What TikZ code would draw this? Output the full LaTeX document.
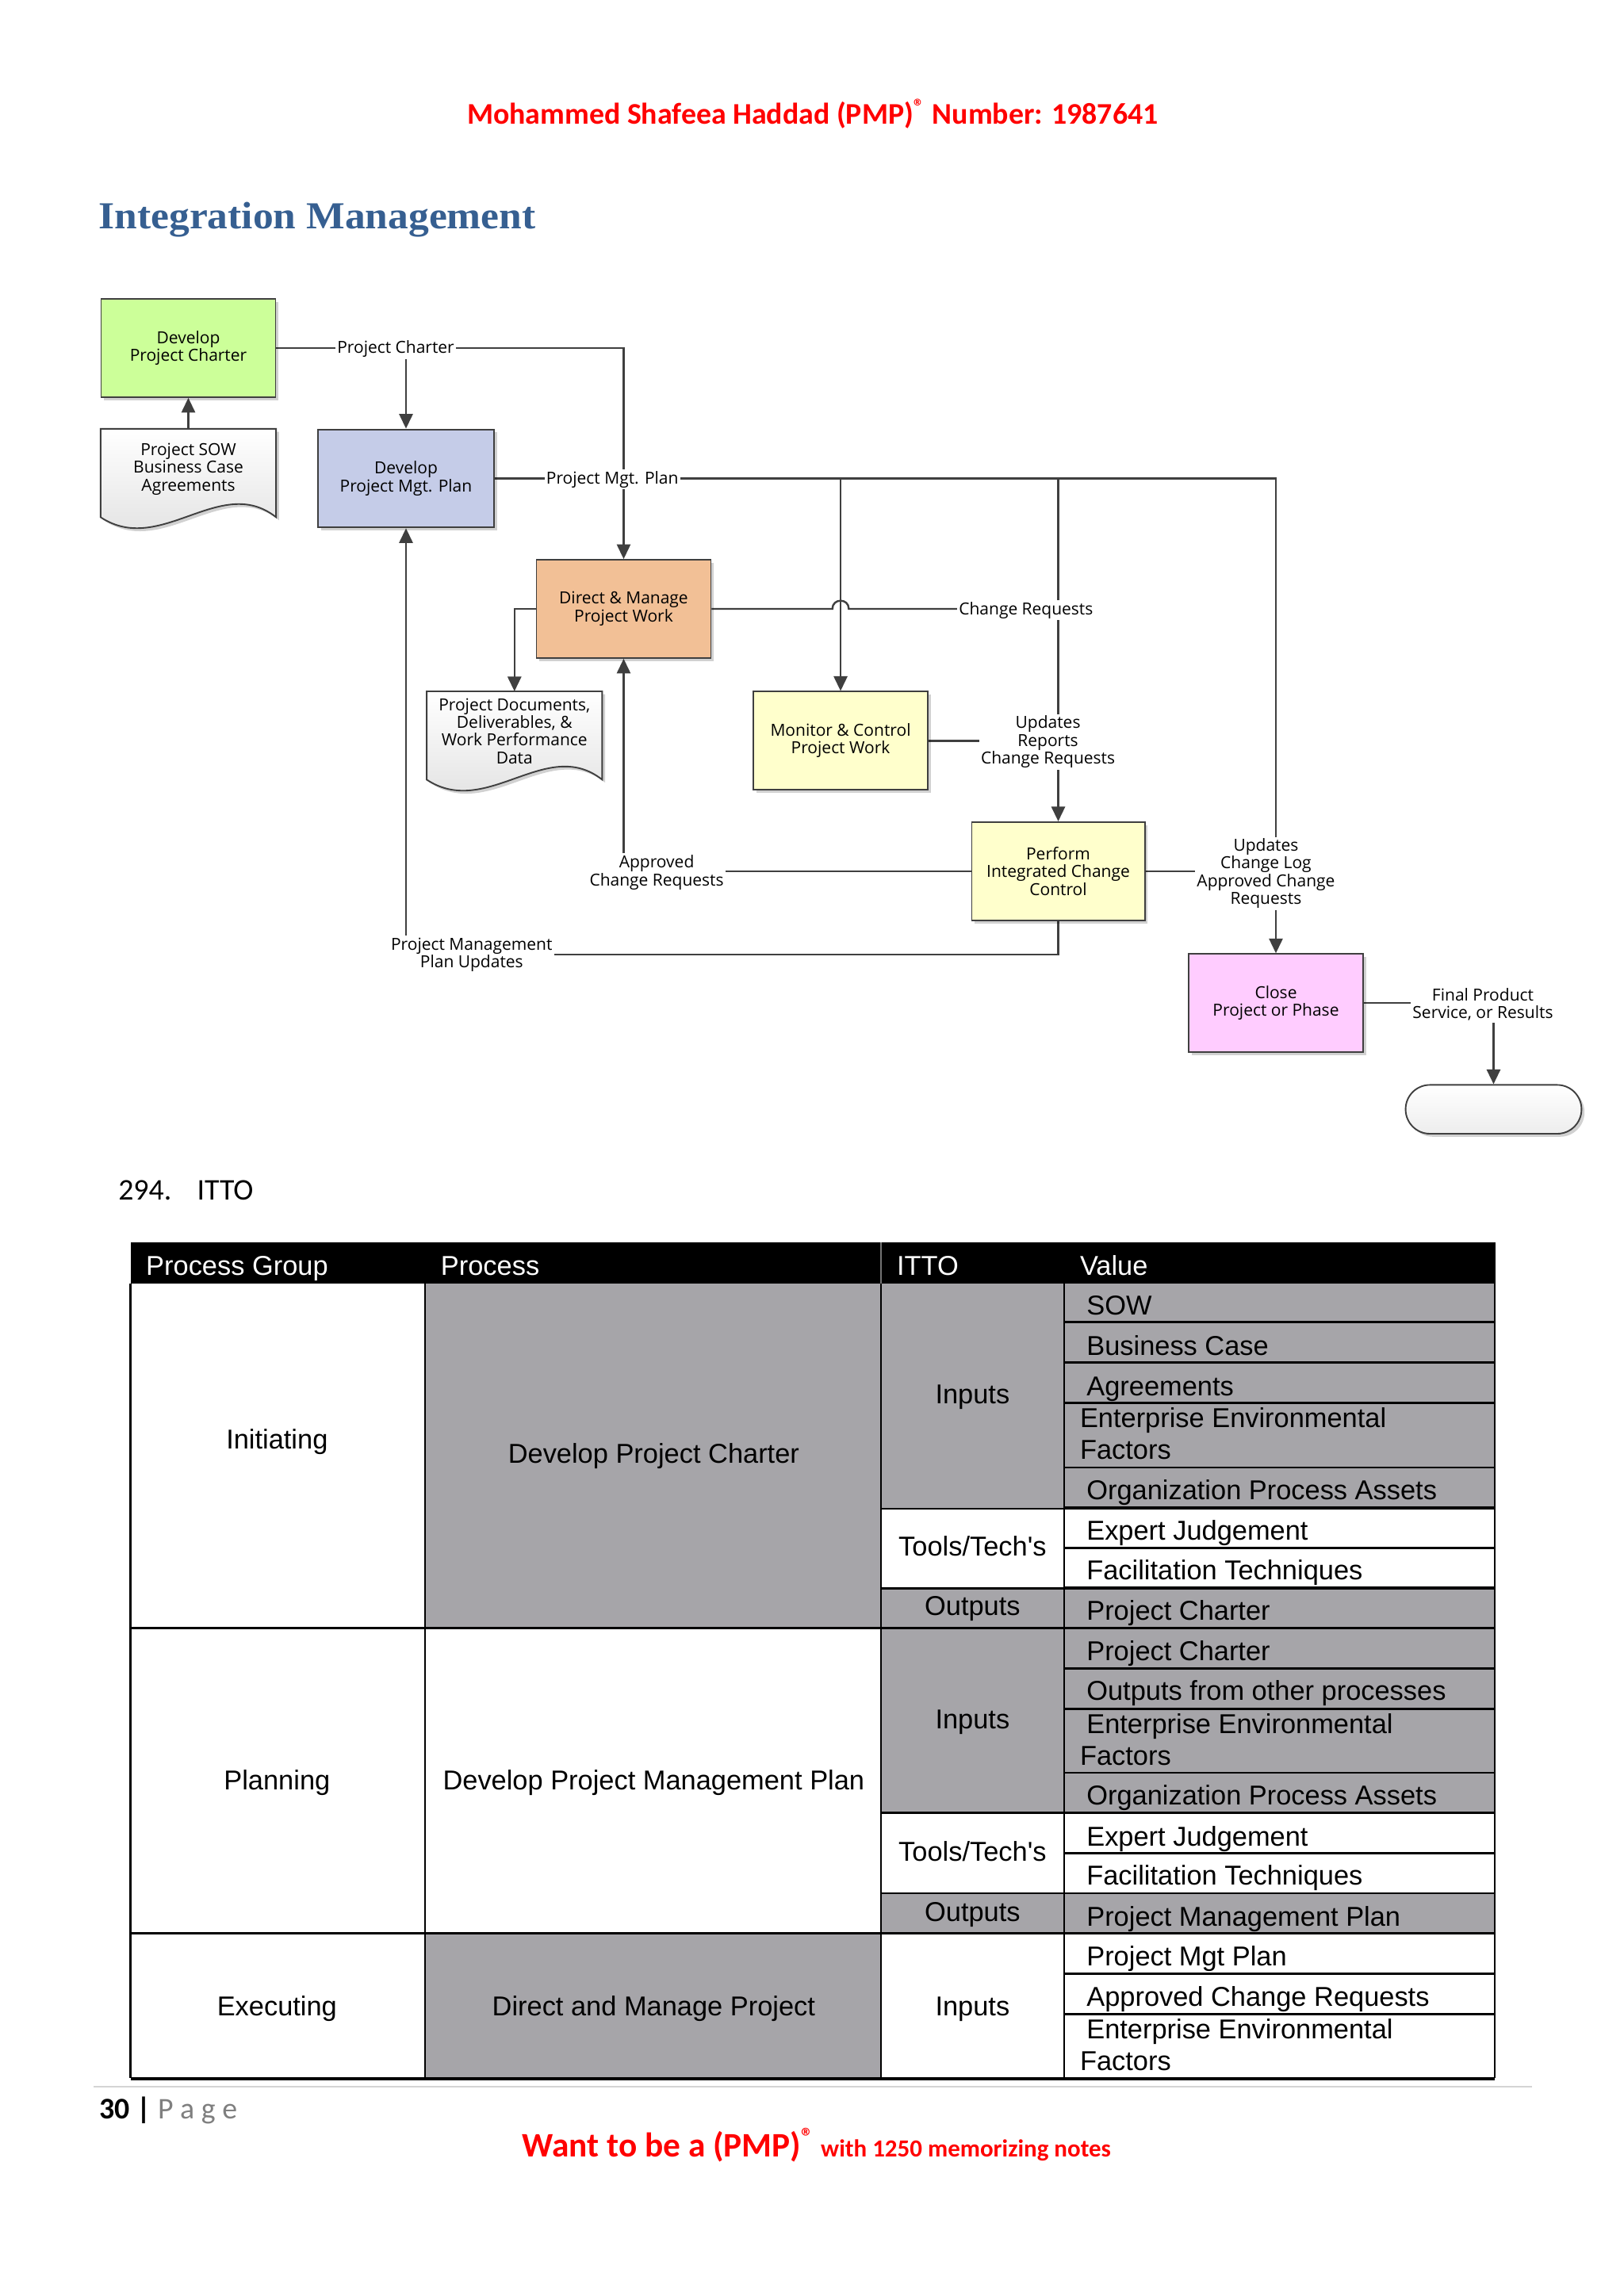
\documentclass[tikz,border=0pt]{standalone}
\usepackage{fontspec}
\setmainfont{Carlito}
\newfontfamily\diafont{Open Sans}
\newfontfamily\tblfont{Liberation Sans}
\newfontfamily\titlefont{Liberation Serif}
\usetikzlibrary{arrows.meta,shadows,calc}
\pgfdeclarelayer{bg}
\pgfsetlayers{bg,main}
\definecolor{linec}{HTML}{3F3F3F}
\definecolor{cgreen}{HTML}{CCFF99}
\definecolor{cblue}{HTML}{C5CCE8}
\definecolor{corange}{HTML}{F2C096}
\definecolor{cyellow}{HTML}{FFFFCC}
\definecolor{cpink}{HTML}{FFCCFF}
\definecolor{tgray}{RGB}{166,165,169}
\definecolor{titleblue}{HTML}{365F91}
\definecolor{pgray}{HTML}{7F7F7F}
\definecolor{hred}{HTML}{FF0000}
\tikzset{
  dfont/.style={font=\diafont\fontsize{6.1}{6.5}\selectfont},
  box/.style={draw=linec, line width=0.55pt, minimum width=63.93pt, minimum height=36pt, inner sep=1pt, align=center, dfont,
    drop shadow={shadow xshift=1.1pt, shadow yshift=-1.1pt, opacity=0.18, fill=black}},
  docshape/.style={inner sep=0pt, minimum width=63.93pt, minimum height=32pt},
  docpath/.style={draw=linec, line width=0.55pt, top color=white, bottom color=black!13,
    drop shadow={shadow xshift=1.1pt, shadow yshift=-1.1pt, opacity=0.18, fill=black}},
  doctext/.style={inner sep=0pt, align=center, dfont},
  conn/.style={draw=linec, line width=0.7pt},
  arr/.style={conn, -{Triangle[length=5.4pt,width=5pt]}},
  lbl/.style={fill=white, inner sep=0.6pt, align=center, dfont},
  tx/.style={inner sep=0pt, font=\tblfont\fontsize{10}{11.6}\selectfont},
  tline/.style={draw=black, line width=0.6pt},
  hline/.style={draw=black, line width=0.8pt},
}
\begin{document}
\begin{tikzpicture}[x=0.53725pt,y=-0.53725pt]
\useasboundingbox (0,0) rectangle (1108,1566.8);
\begin{pgfonlayer}{bg}
\fill[white] (0,0) rectangle (1108,1566.8);
\end{pgfonlayer}

% ---------- page header ----------
\node[anchor=base, inner sep=0pt, text=hred, font=\bfseries\fontsize{11}{13}\selectfont] (hdr) at (554.5,84.8)
  {Mohammed Shafeea Haddad (PMP)\textsuperscript{®} Number: 1987641};
\node[anchor=base west, inner sep=0pt, text=titleblue, font=\titlefont\bfseries\fontsize{14}{16}\selectfont] (title) at (67,156)
  {\scalebox{1.07}[1]{Integration Management}};

% ---------- process boxes ----------
\node[box, fill=cgreen] (dpc) at (128.5,237.5) {Develop\\Project Charter};
\node[box, fill=cblue, minimum width=64.47pt] (dpmp) at (277,326.5) {Develop\\Project Mgt. Plan};
\node[box, fill=corange] (dmpw) at (425.5,415.5) {Direct \& Manage\\Project Work};
\node[box, fill=cyellow] (mcpw) at (573.5,505.5) {Monitor \& Control\\Project Work};
\node[box, fill=cyellow, minimum width=63.4pt] (icc) at (722,594.5) {Perform\\Integrated Change\\Control};
\node[box, fill=cpink] (close) at (870.5,684.5) {Close\\Project or Phase};
\node[box, minimum width=64.47pt, minimum height=17.9pt, rounded corners=8.9pt, top color=white, bottom color=black!7] (term) at (1019,757) {};

% ---------- documents ----------
\node[docshape] (sow) at (128.5,322.8) {};
\path[docpath] (sow.north west) -- (sow.north east) -- (sow.south east)
  .. controls ($(sow.south east)+(-38,-30)$) and ($(sow.south west)+(41,27)$) .. (sow.south west) -- cycle;
\node[doctext] (sowt) at (128.5,320) {Project SOW\\Business Case\\Agreements};

\node[docshape] (pdoc) at (351,501.9) {};
\path[docpath] (pdoc.north west) -- (pdoc.north east) -- (pdoc.south east)
  .. controls ($(pdoc.south east)+(-38,-30)$) and ($(pdoc.south west)+(41,27)$) .. (pdoc.south west) -- cycle;
\node[doctext] (pdoct) at (351,498.8) {Project Documents,\\Deliverables, \&\\Work Performance\\Data};

% ---------- connector labels ----------
\node[lbl] (lblPC) at (270,237.9) {Project Charter};
\node[lbl] (lblPMP) at (417.8,327.2) {Project Mgt. Plan};
\node[lbl] (lblCR) at (700,416.5) {Change Requests};
\node[lbl] (lblURC) at (715,506.3) {Updates\\Reports\\Change Requests};
\node[lbl] (lblACR) at (448,595.5) {Approved\\Change Requests};
\node[lbl] (lblPMU) at (321.8,651.4) {Project Management\\Plan Updates};
\node[lbl] (lblUCL) at (863.7,596) {Updates\\Change Log\\Approved Change\\Requests};
\node[lbl] (lblFP) at (1011.7,685.5) {Final Product\\Service, or Results};

% ---------- connectors ----------
\begin{pgfonlayer}{bg}
\coordinate (hop) at (dmpw.east -| mcpw.north);
\draw[arr] (dpc.east) -- (dpc.east -| dmpw.north) -- (dmpw.north);
\draw[arr] (lblPC.south -| dpmp.north) -- (dpmp.north);
\draw[arr] (dpmp.east) -- (dpmp.east -| close.north) -- (close.north);
\draw[arr] (dpmp.east -| mcpw.north) -- (mcpw.north);
\draw[arr] (dpmp.east -| icc.north) -- (icc.north);
\draw[conn] (dmpw.east) -- ([xshift=-3pt]hop) .. controls ([xshift=-3pt,yshift=4pt]hop) and ([xshift=3pt,yshift=4pt]hop) .. ([xshift=3pt]hop) -- (dmpw.east -| lblCR);
\draw[arr] (dmpw.west) -| (pdoc.north);
\draw[arr] (sow.north) -- (dpc.south);
\draw[conn] (mcpw.east) -- (mcpw.east -| lblURC);
\draw[conn] (icc.west) -- (icc.west -| lblACR);
\draw[arr] (lblACR.north -| dmpw.south) -- (dmpw.south);
\draw[conn] (icc.south) |- (lblPMU);
\draw[arr] (lblPMU.north -| dpmp.south) -- (dpmp.south);
\draw[conn] (icc.east) -- (icc.east -| lblUCL);
\draw[conn] (close.east) -- (close.east -| lblFP);
\draw[arr] (lblFP.south -| term.north) -- (term.north);
\end{pgfonlayer}

% ---------- ITTO heading ----------
\node[anchor=base west, inner sep=0pt, font=\fontsize{11}{13}\selectfont] (num) at (80.4,818.9) {294.};
\node[anchor=base west, inner sep=0pt, font=\fontsize{11}{13}\selectfont] (itto) at (134.1,818.9) {ITTO};

% ---------- table fills ----------
\fill[black] (89,848) rectangle (1020,876);
\fill[tgray] (290,876) rectangle (601,1111);
\fill[tgray] (601,876) rectangle (1020,1030);
\fill[tgray] (601,1084) rectangle (1020,1111);
\fill[tgray] (601,1111) rectangle (1020,1237);
\fill[tgray] (601,1292) rectangle (1020,1319);
\fill[tgray] (290,1319) rectangle (601,1418);
% vertical lines
\draw[black!55, line width=0.5pt] (601,848) -- (601,876);
\draw[tline] (89,876) -- (89,1418);
\draw[tline] (290,876) -- (290,1418);
\draw[tline] (601,876) -- (601,1418);
\draw[tline] (726,876) -- (726,1418);
\draw[tline] (1020,848) -- (1020,1418);
% value row lines
\foreach \yy in {902.2,929.8,957.4,1001.4,1028.6,1056.2,1083.5,1138.6,1166,1209.7,1237.2,1264.6,1291.9,1346.8,1374.4}
  \draw[hline] (726,\yy) -- (1020,\yy);
\foreach \yy in {1029.5,1083.8,1237.2,1291.9}
  \draw[hline] (601,\yy) -- (1020,\yy);
\draw[hline, line width=0.9pt] (89,1111.1) -- (1020,1111.1);
\draw[hline, line width=0.9pt] (89,1319.4) -- (1020,1319.4);
\draw[hline, line width=1.3pt] (89,1418.5) -- (1020,1418.5);

% ---------- table header ----------
\node[tx, anchor=base west, text=white] (h1) at (99.3,870.3) {Process Group};
\node[tx, anchor=base west, text=white] (h2) at (300.4,870.3) {Process};
\node[tx, anchor=base west, text=white] (h3) at (611.6,870.3) {ITTO};
\node[tx, anchor=base west, text=white] (h4) at (736.5,870.3) {Value};

% ---------- table body ----------
\node[tx, anchor=base] (g1) at (189,988.5) {Initiating};
\node[tx, anchor=base] (g2) at (189,1221.2) {Planning};
\node[tx, anchor=base] (g3) at (189,1375.5) {Executing};
\node[tx, anchor=base] (p1) at (446,998.4) {Develop Project Charter};
\node[tx, anchor=base] (p2) at (446,1221.2) {Develop Project Management Plan};
\node[tx, anchor=base] (p3) at (446,1375.5) {Direct and Manage Project};
\node[tx, anchor=base] (i1) at (663.5,957.8) {Inputs};
\node[tx, anchor=base] (t1) at (663.5,1061.9) {Tools/Tech's};
\node[tx, anchor=base] (o1) at (663.5,1102.5) {Outputs};
\node[tx, anchor=base] (i2) at (663.5,1179.7) {Inputs};
\node[tx, anchor=base] (t2) at (663.5,1269.8) {Tools/Tech's};
\node[tx, anchor=base] (o2) at (663.5,1311) {Outputs};
\node[tx, anchor=base] (i3) at (663.5,1375.5) {Inputs};

\node[tx, anchor=base west] (v1) at (741,897.3) {SOW};
\node[tx, anchor=base west] (v2) at (741,924.8) {Business Case};
\node[tx, anchor=base west] (v3) at (741,952.2) {Agreements};
\node[tx, anchor=base west] (v4) at (736.5,974.3) {Enterprise Environmental};
\node[tx, anchor=base west] (v4b) at (736.5,996) {Factors};
\node[tx, anchor=base west] (v5) at (741,1023.6) {Organization Process Assets};
\node[tx, anchor=base west] (v6) at (741,1050.8) {Expert Judgement};
\node[tx, anchor=base west] (v7) at (741,1078.2) {Facilitation Techniques};
\node[tx, anchor=base west] (v8) at (741,1105.6) {Project Charter};
\node[tx, anchor=base west] (v9) at (741,1133.1) {Project Charter};
\node[tx, anchor=base west] (v10) at (741,1160.1) {Outputs from other processes};
\node[tx, anchor=base west] (v11) at (741,1182.8) {Enterprise Environmental};
\node[tx, anchor=base west] (v11b) at (736.5,1204.6) {Factors};
\node[tx, anchor=base west] (v12) at (741,1231.5) {Organization Process Assets};
\node[tx, anchor=base west] (v13) at (741,1259.5) {Expert Judgement};
\node[tx, anchor=base west] (v14) at (741,1286.3) {Facilitation Techniques};
\node[tx, anchor=base west] (v15) at (741,1314.3) {Project Management Plan};
\node[tx, anchor=base west] (v16) at (741,1341.2) {Project Mgt Plan};
\node[tx, anchor=base west] (v17) at (741,1369.2) {Approved Change Requests};
\node[tx, anchor=base west] (v18) at (741,1391.4) {Enterprise Environmental};
\node[tx, anchor=base west] (v18b) at (736.5,1412.7) {Factors};

% ---------- footer ----------
\draw[black!17, line width=0.8pt] (64,1424) -- (1045,1424);
\node[anchor=base west, inner sep=0pt, font=\fontsize{11}{13}\selectfont] (pg) at (67.6,1445.7)
  {\textbf{30 |} \textcolor{pgray}{P a g e}};
\node[anchor=base west, inner sep=0pt, text=hred, font=\bfseries] (ftr) at (356,1472)
  {{\fontsize{12.6}{14}\selectfont Want to be a (PMP)\textsuperscript{®}} {\fontsize{9}{11}\selectfont with 1250 memorizing notes}};
\end{tikzpicture}
\end{document}
